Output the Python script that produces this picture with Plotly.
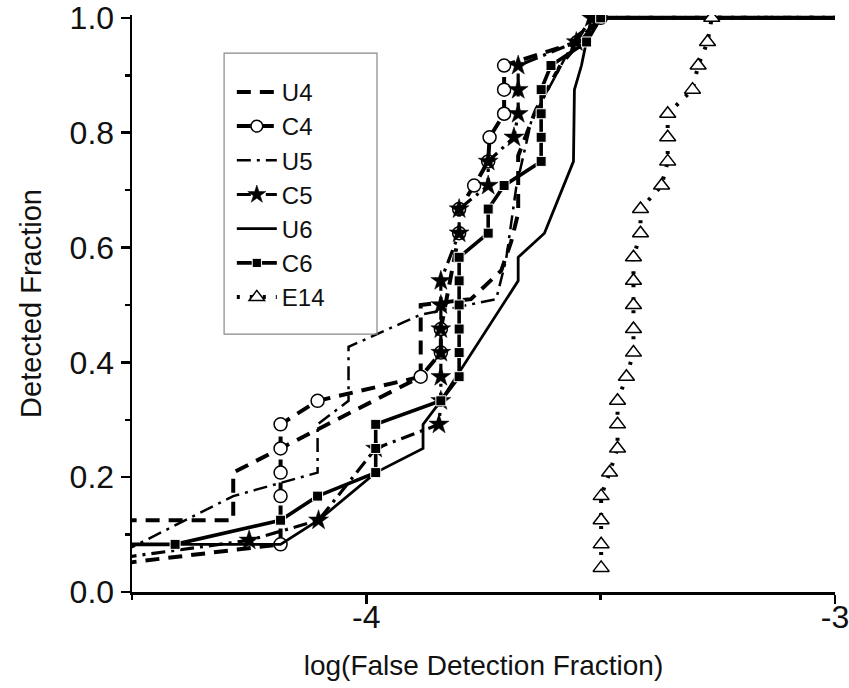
import plotly.graph_objects as go

# ---------------- data ----------------
u4_x = [-4.52, -4.284, -4.284, -3.884, -3.884, -3.777, -3.712, -3.691, -3.676, -3.676, -3.638, -3.584, -3.50, -2.9]
u4_y = [0.125, 0.125, 0.208, 0.375, 0.500, 0.510, 0.560, 0.610, 0.660, 0.760, 0.840, 0.920, 1.000, 1.000]

c4_x = [-4.52, -4.183, -4.183, -4.183, -4.183, -4.183, -4.104, -3.884, -3.841, -3.841, -3.802, -3.802,
        -3.770, -3.740, -3.737, -3.706, -3.706, -3.706, -3.550, -3.500, -2.9]
c4_y = [0.050, 0.083, 0.167, 0.208, 0.250, 0.292, 0.333, 0.375, 0.417, 0.458, 0.625, 0.667,
        0.708, 0.750, 0.792, 0.833, 0.875, 0.917, 0.958, 1.000, 1.000]

u5_x = [-4.52, -4.284, -4.104, -4.104, -4.038, -4.038, -3.920, -3.884, -3.783, -3.723, -3.702, -3.680,
        -3.648, -3.550, -3.500, -2.9]
u5_y = [0.070, 0.167, 0.208, 0.292, 0.333, 0.427, 0.470, 0.483, 0.500, 0.510, 0.578, 0.706,
        0.820, 0.970, 1.000, 1.000]

c5_x = [-4.52, -4.250, -4.102, -3.980, -3.845, -3.841, -3.841, -3.841, -3.841, -3.841, -3.841,
        -3.802, -3.802, -3.740, -3.740, -3.685, -3.676, -3.676, -3.676, -3.552, -3.520, -2.9]
c5_y = [0.060, 0.090, 0.125, 0.250, 0.292, 0.333, 0.375, 0.417, 0.458, 0.500, 0.542,
        0.625, 0.667, 0.708, 0.750, 0.792, 0.833, 0.875, 0.917, 0.958, 1.000, 1.000]

u6_x = [-4.52, -4.183, -4.102, -3.980, -3.879, -3.879, -3.841, -3.676, -3.676, -3.620, -3.558,
        -3.556, -3.541, -3.520, -2.9]
u6_y = [0.083, 0.083, 0.125, 0.208, 0.250, 0.292, 0.333, 0.542, 0.583, 0.625, 0.750,
        0.875, 0.917, 1.000, 1.000]

c6_x = [-4.52, -4.408, -4.183, -4.104, -3.980, -3.980, -3.980, -3.841, -3.802, -3.802, -3.802,
        -3.802, -3.802, -3.802, -3.740, -3.740, -3.706, -3.627, -3.627, -3.627, -3.627, -3.606,
        -3.530, -3.500, -2.9]
c6_y = [0.083, 0.083, 0.125, 0.167, 0.208, 0.250, 0.292, 0.333, 0.375, 0.417, 0.458,
        0.500, 0.542, 0.583, 0.625, 0.667, 0.708, 0.750, 0.792, 0.833, 0.875, 0.917,
        0.958, 1.000, 1.000]

e14_x = [-3.499, -3.499, -3.499, -3.499, -3.481, -3.464, -3.464, -3.464, -3.445, -3.430, -3.430,
         -3.430, -3.430, -3.430, -3.415, -3.415, -3.370, -3.357, -3.357, -3.357, -3.304, -3.292,
         -3.272, -3.263, -2.9]
e14_y = [0.042, 0.083, 0.125, 0.167, 0.208, 0.250, 0.292, 0.333, 0.375, 0.417, 0.458,
         0.500, 0.542, 0.583, 0.625, 0.667, 0.708, 0.750, 0.792, 0.833, 0.875, 0.917,
         0.958, 1.000, 1.000]

x_tickvals = [-4, -3]
x_ticktext = ["-4", "-3"]
y_tickvals = [0.0, 0.2, 0.4, 0.6, 0.8, 1.0]

FONT = "Liberation Sans, Arial, sans-serif"
INK = "#111111"


def marker_sizes(n, s, first=True):
    # no marker on the helper points that only run the line off the axes
    sizes = [s] * n
    if first:
        sizes[0] = 0
    sizes[-1] = 0
    return sizes


fig = go.Figure()

fig.add_trace(go.Scatter(x=u4_x, y=u4_y, name="U4", mode="lines", legendgroup="a",
                         line=dict(color="black", width=4, dash="14px,9px")))
fig.add_trace(go.Scatter(x=c4_x, y=c4_y, name="C4", mode="lines+markers", legendgroup="b",
                         line=dict(color="black", width=4, dash="14px,9px"),
                         marker=dict(symbol="circle", size=marker_sizes(len(c4_x), 13), color="white",
                                     opacity=1, line=dict(color="black", width=1.5))))
fig.add_trace(go.Scatter(x=u5_x, y=u5_y, name="U5", mode="lines", legendgroup="c",
                         line=dict(color="black", width=2.5, dash="14px,6px,3px,6px")))
fig.add_trace(go.Scatter(x=c5_x, y=c5_y, name="C5", mode="lines+markers", legendgroup="d",
                         line=dict(color="black", width=3.2, dash="14px,6px,3px,6px"),
                         marker=dict(symbol="star", size=marker_sizes(len(c5_x), 15), color="black",
                                     opacity=1, line=dict(color="black", width=0.5))))
fig.add_trace(go.Scatter(x=u6_x, y=u6_y, name="U6", mode="lines", legendgroup="e",
                         line=dict(color="black", width=2.8)))
fig.add_trace(go.Scatter(x=c6_x, y=c6_y, name="C6", mode="lines+markers", legendgroup="f",
                         line=dict(color="black", width=3.6),
                         marker=dict(symbol="square", size=marker_sizes(len(c6_x), 10), color="black",
                                     opacity=1)))
fig.add_trace(go.Scatter(x=e14_x, y=e14_y, name="E14", mode="lines+markers", legendgroup="g",
                         line=dict(color="black", width=4, dash="3px,10px"),
                         marker=dict(symbol="triangle-up", size=marker_sizes(len(e14_x), 14, first=False),
                                     color="white", opacity=1, line=dict(color="black", width=1.5))))

axis_common = dict(showline=True, linecolor="black", linewidth=2.5, ticks="outside",
                   tickwidth=2.5, ticklen=9, tickcolor="black", showgrid=False, zeroline=False,
                   mirror=False, automargin=False, ticklabeloverflow="allow",
                   tickfont=dict(family=FONT, size=32, color=INK))

fig.update_xaxes(range=[-4.5, -3.0], tickvals=x_tickvals, ticktext=x_ticktext,
                 ticklabelstandoff=-14,
                 minor=dict(dtick=0.5, tick0=-4.5, ticks="outside", ticklen=5, tickwidth=2.5,
                            tickcolor="black", showgrid=False),
                 title=dict(text="log(False Detection Fraction)",
                            font=dict(family=FONT, size=28, color=INK), standoff=22),
                 **axis_common)
fig.update_yaxes(range=[0, 1.005], tickvals=y_tickvals, tickformat=".1f",
                 minor=dict(dtick=0.1, tick0=0, ticks="outside", ticklen=5, tickwidth=2.5,
                            tickcolor="black", showgrid=False),
                 title=dict(text="Detected Fraction",
                            font=dict(family=FONT, size=29, color=INK), standoff=20),
                 **axis_common)

# legend frame (decoration only, in paper coordinates)
fig.add_shape(type="rect", xref="paper", yref="paper", x0=0.131, x1=0.3485, y0=0.447, y1=0.934,
              line=dict(color="#888888", width=1.2), fillcolor="rgba(0,0,0,0)", layer="above")

fig.update_layout(
    width=849, height=688,
    margin=dict(l=132, r=14, t=15, b=96),
    paper_bgcolor="white", plot_bgcolor="white",
    font=dict(family=FONT, color=INK),
    showlegend=True,
    hovermode=False,
    legend=dict(x=0.142, y=0.905, xanchor="left", yanchor="top",
                borderwidth=0, bgcolor="rgba(255,255,255,0)",
                font=dict(family=FONT, size=24, color=INK),
                tracegroupgap=0, itemwidth=40),
)

# remove the default 8px page margin so the figure sits at the window's top-left corner
fig.write_html("out.html", config={"displayModeBar": False, "staticPlot": True},
               post_script="document.body.style.margin='0px';document.body.style.overflow='hidden';")
